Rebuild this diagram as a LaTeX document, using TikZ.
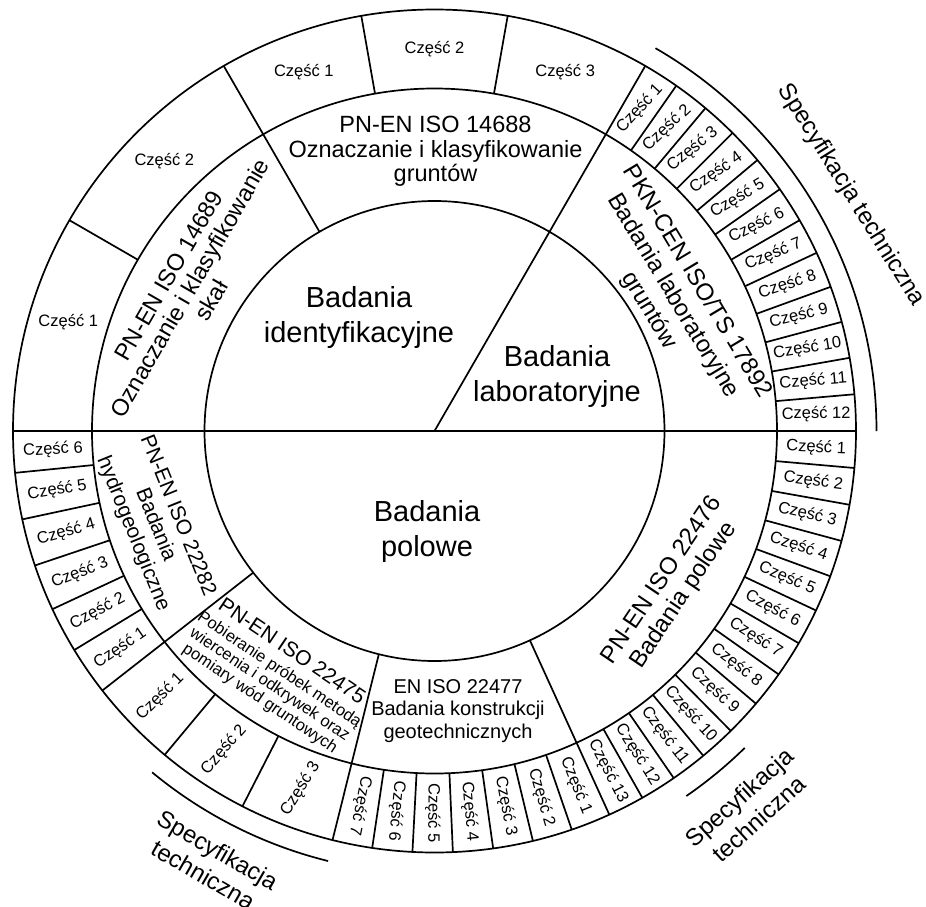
\documentclass[tikz,border=0pt]{standalone}
\usepackage{fontspec}
\setmainfont{Liberation Sans}
\newcommand\fsz[2]{\fontsize{#1}{#2}\selectfont}
\begin{document}
\begin{tikzpicture}[x=1pt,y=1pt,
  ln/.style={line width=1.7pt, black},
  part/.style={font=\fsz{16.5}{18}, inner sep=0pt},
  std/.style={align=center, inner sep=0pt},
  big/.style={align=center, inner sep=0pt, font=\fsz{29}{35}},
  spec/.style={align=center, inner sep=0pt, font=\fsz{24}{29}},
]
\fill[white] (-434.5,-475) rectangle (491.5,431);
\useasboundingbox (-434.5,-475) rectangle (491.5,431);
\def\Ra{230}\def\Rb{342.5}\def\Rc{421.5}
\coordinate (O) at (0,0);
% circles
\draw[ln] (O) circle (\Ra);
\draw[ln] (O) circle (\Rb);
\draw[ln] (O) circle (\Rc);
% diameter and main radial lines
\draw[ln] (180:\Rc) -- (0:\Rc);
\draw[ln] (O) -- (60:\Rc);
\foreach \a in {120,218,256,294.5} \draw[ln] (\a:\Ra) -- (\a:\Rc);
% outer ring boundaries
\foreach \a in {150,100,80,5,10,...,55,185.7,192.1,198.6,205,211.3,230.2,242.9,261.5,267,272.5,278,283.5,289}
  \draw[ln] (\a:\Rb) -- (\a:\Rc);
\foreach \k in {1,...,12}
  \draw[ln] ({294.5+5.03846*\k}:\Rb) -- ({294.5+5.03846*\k}:\Rc);
% specification arcs
\draw[ln] (60:442) arc[start angle=60, end angle=0, radius=442];
\draw[ln] (230.4:443) arc[start angle=230.4, end angle=256.1, radius=443];
\draw[ln] (304.6:443.5) arc[start angle=304.6, end angle=314.4, radius=443.5];

% central texts
\node[big] (bi) at (-75.5,113.5) {Badania\\identyfikacyjne};
\node[big] (bl) at (122.5,55) {Badania\\laboratoryjne};
\node[big] (bp) at (-7.5,-100.5) {Badania\\polowe};

% standards (middle ring)
\node[std, font=\fsz{23.5}{24.5}] (s14688) at (1,279.5) {PN-EN ISO 14688\\Oznaczanie i klasyfikowanie\\gruntów};
\node[std, font=\fsz{23.5}{24.5}, rotate=60] (s14689) at (-244.5,143) {PN-EN ISO 14689\\Oznaczanie i klasyfikowanie\\skał};
\node[std, font=\fsz{24}{28}, rotate=-59] (s17892) at (238.5,135) {PKN-CEN ISO/TS 17892\\Badania laboratoryjne\\gruntów};
\node[std, font=\fsz{21}{24}, rotate=-68] (s22282) at (-279.5,-94) {PN-EN ISO 22282\\Badania\\hydrogeologiczne};
\node[std, font=\fsz{16.5}{17.5}, rotate=-34] (s22475) at (-158.5,-244) {{\fsz{21}{23}PN-EN ISO 22475}\\[3pt]Pobieranie próbek metodą\\wiercenia i odkrywek oraz\\pomiary wód gruntowych};
\node[std, font=\fsz{20}{22.5}] (s22477) at (23.5,-280) {EN ISO 22477\\Badania konstrukcji\\geotechnicznych};
\node[std, font=\fsz{24}{26.5}, rotate=56] (s22476) at (238.5,-157) {PN-EN ISO 22476\\Badania polowe};

% parts: 14689 and 14688 (horizontal)
\node[part] at (163.5:382) {Część 1};
\node[part] at (135:382) {Część 2};
\node[part] at (110:382) {Część 1};
\node[part] at (90:382) {Część 2};
\node[part] at (70:382) {Część 3};
% parts: 17892
\foreach \n [evaluate=\n as \a using 62.5-5*\n] in {1,...,12}
  \node[part, rotate=0.85*\a-1.5] at (\a:382) {Część \n};
% parts: 22282
\foreach \n/\a in {6/182.85,5/188.9,4/195.35,3/201.8,2/208.15,1/214.65}
  \node[part, rotate=\a-180] at (\a:382) {Część \n};
% parts: 22475
\foreach \n/\a/\r in {1/224.1/45,2/236.55/49,3/249.45/58}
  \node[part, rotate=\r] at (\a:382) {Część \n};
% parts: 22477
\foreach \n [evaluate=\n as \a using 294.5-5.5*(\n-0.5)] in {1,...,7}
  \node[part, rotate=\a] at (\a:382) {Część \n};
% parts: 22476
\foreach \n [evaluate=\n as \a using 360-5.03846*(\n-0.5)] in {1,...,13}
  \node[part, rotate=\a] at (\a:382) {Część \n};

% specification labels
\node[spec, rotate=-58] (sp1) at (416.5,236) {Specyfikacja techniczna};
\node[spec, rotate=-30] (sp2) at (-224,-431.5) {Specyfikacja\\techniczna};
\node[spec, rotate=42] (sp3) at (314.5,-377) {Specyfikacja\\techniczna};
\end{tikzpicture}
\end{document}
